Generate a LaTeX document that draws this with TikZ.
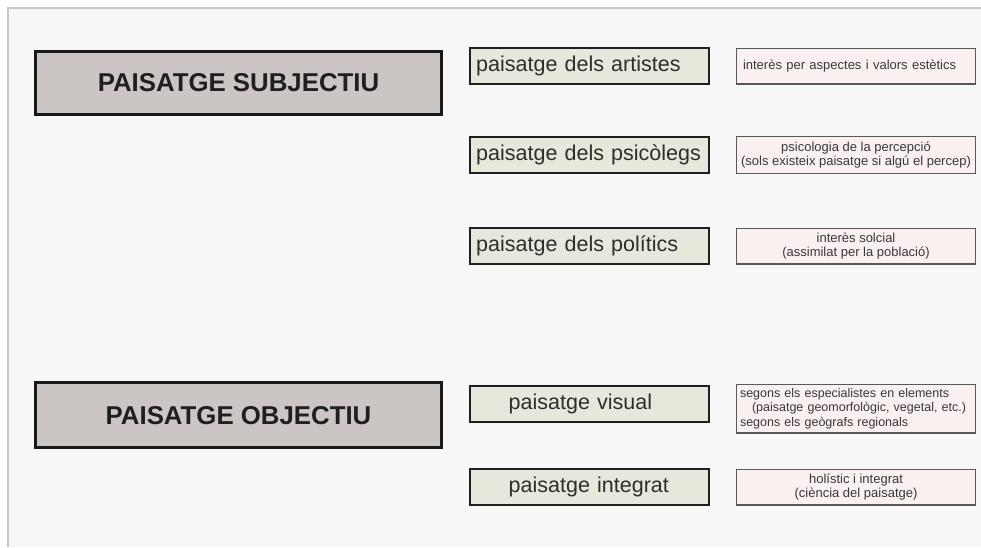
\documentclass[tikz,border=0pt]{standalone}
\usepackage{fontspec}
\setsansfont{Liberation Sans}
\usepackage{tikz}
\usetikzlibrary{positioning}
\usepackage{xcolor}
\definecolor{bigfill}{HTML}{CBC5C4}
\definecolor{midfill}{HTML}{E8E7DB}
\definecolor{descfill}{HTML}{FAF0F0}
\definecolor{pagebg}{HTML}{F7F7F7}
\definecolor{framegray}{HTML}{C8C8C8}

\begin{document}
\begin{tikzpicture}[font=\sffamily, x=1pt, y=-1pt,
    bigbox/.style={draw=black!90, line width=3.3pt, fill=bigfill,
        minimum width=406pt, minimum height=63pt, inner sep=0pt,
        text=black!88, font=\sffamily\bfseries\fontsize{25.8}{30}\selectfont},
    typebox/.style={draw=black!88, line width=2.4pt, fill=midfill,
        minimum height=35.6pt, inner xsep=6pt, inner ysep=0pt,
        text width=226.6pt, align=left,
        text=black!82, font=\sffamily\fontsize{21.5}{24}\selectfont},
    descbox/.style={draw=black!65, line width=1.4pt, fill=descfill,
        minimum width=238.6pt, minimum height=35.6pt, inner sep=2pt,
        align=center, text=black!78,
        font=\sffamily\fontsize{13}{14}\selectfont}]
    \useasboundingbox (0,0) rectangle (981,547);
    \fill[white] (0,0) rectangle (981,547);
    \fill[pagebg] (8,8) rectangle (981,547);
    \draw[framegray, line width=1.2pt] (8,547) -- (8,8) -- (981,8);

    % Add the two kinds
        \node[bigbox] (subj) at (238.5,83) {PAISATGE SUBJECTIU};
        \node[bigbox,
            minimum height=65pt,
            below=265pt of subj
            ] (obj) {PAISATGE OBJECTIU};

    % Add the types
        \node[typebox] (p1) at (589.5,66) {\mbox{paisatge dels artistes}};
        \node[typebox,
            below=51pt of p1
            ] (p2) {\mbox{paisatge dels psicòlegs}};
        \node[typebox,
            below=53pt of p2
            ] (p3) {\mbox{paisatge dels polítics}};
        \node[typebox,
            below=120pt of p3
            ] (p4) {\hspace*{32.5pt}paisatge visual};
        \node[typebox,
            below=45pt of p4
            ] (p5) {\hspace*{32.5pt}paisatge integrat};

    % Add the descriptions
        \node[descbox,
            text width=226pt, inner xsep=6pt, align=left,
            right=26pt of p1
            ] (c1) {interès per aspectes i valors estètics};
        \node[descbox,
            minimum height=36.6pt,
            right=26pt of p2
            ] (c2) {psicologia de la percepció\\(sols existeix paisatge si algú el percep)};
        \node[descbox,
            right=26pt of p3
            ] (c3) {interès solcial\\(assimilat per la població)};
        \node[descbox,
            minimum height=48.6pt,
            text width=232pt, inner xsep=3pt, align=left,
            font=\sffamily\fontsize{12.5}{14.5}\selectfont,
            right=26pt of p4, yshift=-4.5pt
            ] (c4) {segons els especialistes en elements\\
            \hspace*{12pt}(paisatge geomorfològic, vegetal, etc.)\\
            segons els geògrafs regionals};
        \node[descbox,
            right=26pt of p5
            ] (c5) {holístic i integrat\\(ciència del paisatge)};
\end{tikzpicture}
\end{document}
